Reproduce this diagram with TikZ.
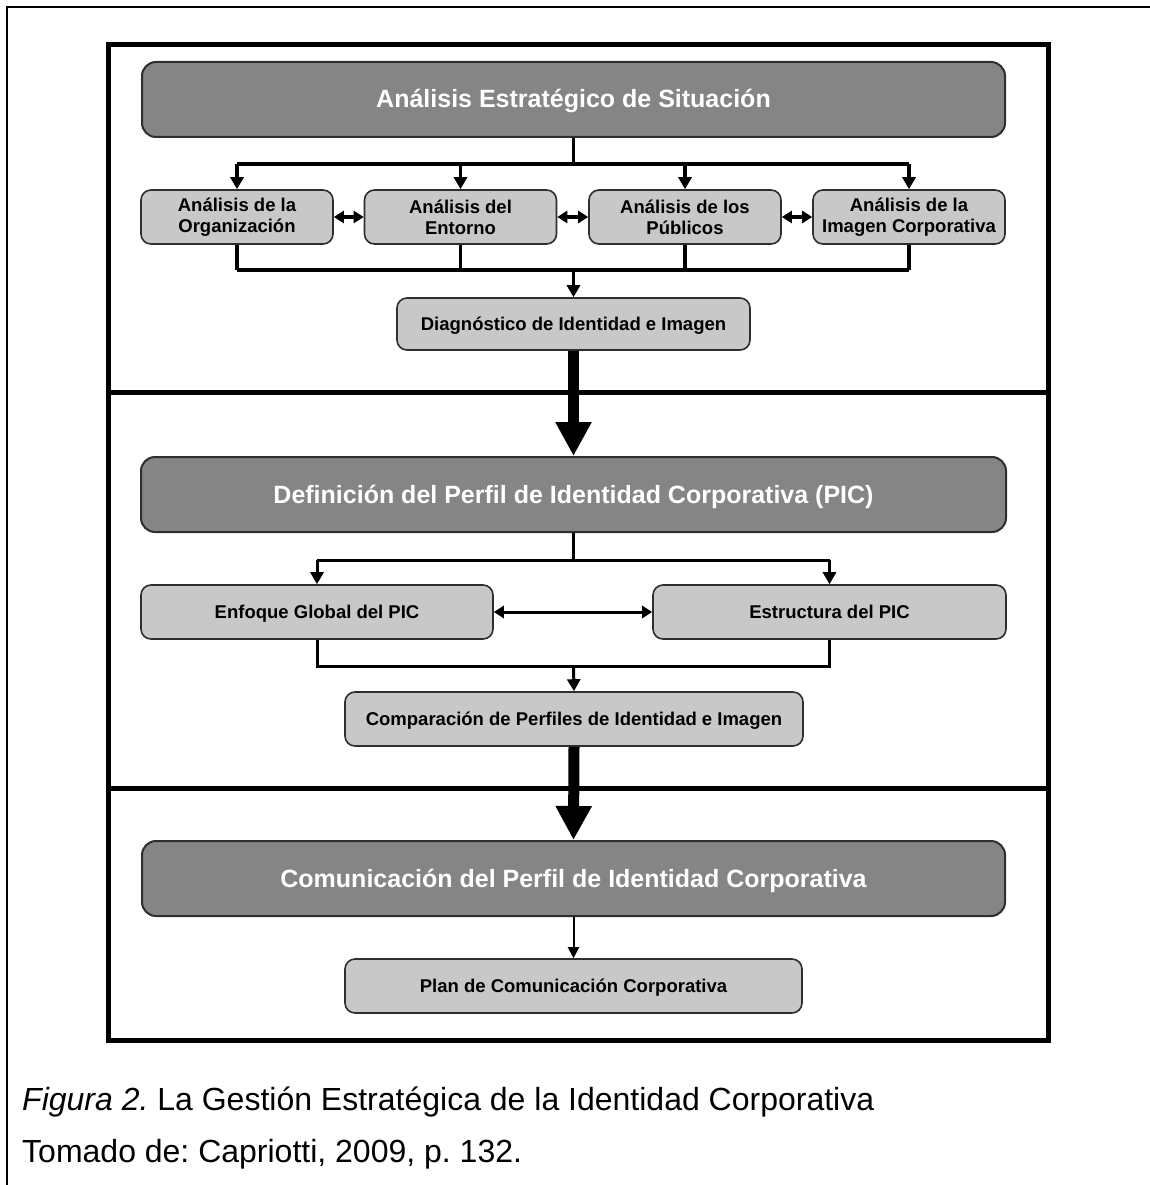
\documentclass[tikz,border=0pt]{standalone}
\usepackage{fontspec}
\setmainfont{Liberation Sans}
\usetikzlibrary{arrows.meta}
\definecolor{hdrgray}{HTML}{858585}
\definecolor{boxgray}{HTML}{C8C8C8}
\definecolor{edgegray}{HTML}{2E2E2E}
\frenchspacing
\begin{document}
\begin{tikzpicture}[x=1pt,y=-1pt,
  hdr/.style={draw=edgegray, line width=2pt, fill=hdrgray, rounded corners=14pt,
    minimum height=75pt, text=white, font=\fontsize{25}{30}\selectfont\bfseries, inner sep=0pt,
    text height=18pt, text depth=1pt},
  sbox/.style={draw=edgegray, line width=1.6pt, fill=boxgray, rounded corners=10pt,
    minimum height=54pt, font=\fontsize{18.5}{21}\selectfont\bfseries, align=center, inner sep=0pt},
  sline/.style={sbox, text height=13pt, text depth=1pt},
  conn/.style={line width=3.5pt, -{Triangle[length=12pt,width=13pt]}},
  plainconn/.style={line width=3.5pt},
  dbl/.style={line width=3.5pt, {Triangle[length=10pt,width=12pt]}-{Triangle[length=10pt,width=12pt]}},
  bigarrow/.style={line width=11pt, -{Triangle[length=34pt,width=34pt]}},
  captxt/.style={anchor=base west, inner sep=0pt, font=\fontsize{32}{36}\selectfont}
]
\useasboundingbox (0,0) rectangle (1150,1185);
% outer thin border
\draw[line width=2.5pt] (7,1185) -- (7,7) -- (1150,7);
% thick frame and dividers
\draw[line width=5pt] (108,45) rectangle (1048,1040);
\draw[line width=5pt] (108,392) -- (1048,392);
\draw[line width=5pt] (108,788) -- (1048,788);

% Section 1
\node[hdr, minimum width=863pt] (h1) at (573.5,99.5) {Análisis Estratégico de Situación};
\node[sbox, minimum width=192pt] (o1) at (237,217) {Análisis de la\\Organización};
\node[sbox, minimum width=192pt] (o2) at (460.5,217) {Análisis del\\Entorno};
\node[sbox, minimum width=192pt] (o3) at (685,217) {Análisis de los\\Públicos};
\node[sbox, minimum width=192pt] (o4) at (909,217) {Análisis de la\\Imagen Corporativa};
\node[sline, minimum width=353pt, minimum height=52pt] (diag) at (573.5,324) {Diagnóstico de Identidad e Imagen};
\coordinate (s1) at (573.5,164);
\coordinate (m1) at (573.5,270);
\draw[plainconn] (h1.south) -- (s1);
\draw[plainconn] (o1.north |- s1) -- (o4.north |- s1);
\foreach \n in {o1,o2,o3,o4}{
  \draw[conn] (\n.north |- s1) -- (\n.north);
  \draw[plainconn] (\n.south) -- (\n.south |- m1);
}
\draw[plainconn] (o1.south |- m1) -- (o4.south |- m1);
\draw[conn] (m1) -- (diag.north);
\draw[dbl] (o1.east) -- (o2.west);
\draw[dbl] (o2.east) -- (o3.west);
\draw[dbl] (o3.east) -- (o4.west);

% Section 2
\node[hdr, minimum width=865pt] (h2) at (573.5,494.5) {Definición del Perfil de Identidad Corporativa (PIC)};
\node[sline, minimum width=352pt] (e1) at (317,612) {Enfoque Global del PIC};
\node[sline, minimum width=353pt] (e2) at (829.5,612) {Estructura del PIC};
\node[sline, minimum width=458pt] (comp) at (574,719) {Comparación de Perfiles de Identidad e Imagen};
\coordinate (s2) at (573.5,560);
\coordinate (m2) at (573.5,666);
\draw[bigarrow] (diag.south) -- (h2.north);
\draw[plainconn, line width=3pt] (h2.south) -- (s2);
\draw[plainconn, line width=3pt] (e1.north |- s2) -- (e2.north |- s2);
\draw[conn, line width=3pt] (e1.north |- s2) -- (e1.north);
\draw[conn, line width=3pt] (e2.north |- s2) -- (e2.north);
\draw[plainconn, line width=3pt] (e1.south) -- (e1.south |- m2) -- (e2.south |- m2) -- (e2.south);
\draw[conn, line width=3pt] (m2) -- (comp.north);
\draw[dbl, line width=3pt] (e1.east) -- (e2.west);

% Section 3
\node[hdr, minimum width=863pt] (h3) at (573.5,878.5) {Comunicación del Perfil de Identidad Corporativa};
\node[sline, minimum width=457pt] (plan) at (573.5,986) {Plan de Comunicación Corporativa};
\draw[bigarrow] (comp.south) -- (h3.north);
\draw[line width=2pt, -{Triangle[length=11pt,width=11pt]}] (h3.south) -- (plan.north);

% Caption
\node[captxt] (cap1) at (22,1110) {\textit{Figura 2.} La Gestión Estratégica de la Identidad Corporativa};
\node[captxt] (cap2) at (22,1162) {Tomado de: Capriotti, 2009, p. 132.};
\end{tikzpicture}
\end{document}
